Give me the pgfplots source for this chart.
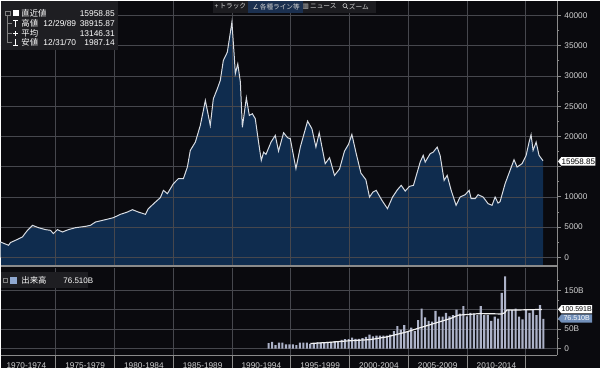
\documentclass[border=0pt]{standalone}
\usepackage{fontspec}
\setmainfont{Liberation Sans}
\newfontfamily\cjk{Noto Sans CJK JP}
\newfontfamily\djv{DejaVu Sans}
\usepackage{pgfplots}
\pgfplotsset{compat=1.18}
\usepackage{pgfplotstable}

\definecolor{bg}{HTML}{0A0A0E}
\definecolor{areafill}{HTML}{0F2C4E}
\definecolor{linec}{HTML}{D8DCE2}
\definecolor{gridc}{HTML}{46474D}
\definecolor{axc}{HTML}{8A8A8A}
\definecolor{txt}{HTML}{D2D2D2}
\definecolor{barc}{HTML}{ACB2C8}
\definecolor{boxc}{HTML}{1E1E22}
\definecolor{tbar}{HTML}{1C1C20}
\definecolor{hl}{HTML}{1B3050}
\definecolor{volbox}{HTML}{7290BA}
\definecolor{volsq}{HTML}{8FA8D0}

\tikzset{gridline/.style={draw=gridc, line width=0.5pt}}

\pgfplotstableread{
year value
1970.30 2530
1970.72 2200
1970.98 1990
1971.15 2450
1971.57 2810
1972.16 3360
1972.59 4460
1973.02 5290
1973.53 4900
1974.12 4580
1974.55 4460
1974.80 3920
1975.14 4580
1975.57 4190
1976.08 4580
1976.68 4900
1977.53 5120
1977.95 5290
1978.38 5840
1979.23 6230
1979.91 6560
1980.50 7110
1981.10 7490
1981.52 7880
1982.03 7490
1982.63 7110
1982.88 8050
1983.48 9140
1983.90 9870
1984.16 11080
1984.50 10530
1985.01 12180
1985.43 13010
1985.86 13010
1986.20 14930
1986.45 17690
1986.88 19060
1987.30 21820
1987.73 25950
1987.90 24300
1988.15 21820
1988.41 26230
1988.75 27890
1989.00 29260
1989.26 32560
1989.60 33940
1989.86 37240
1989.99 38916
1990.20 33000
1990.28 30370
1990.49 32000
1990.71 29000
1990.88 21500
1991.22 26400
1991.47 23470
1991.73 23750
1991.98 22930
1992.24 19300
1992.49 16030
1992.69 17400
1992.89 17030
1993.32 19060
1993.68 20170
1993.96 17570
1994.39 20610
1994.73 19780
1994.96 19620
1995.44 14660
1995.81 18230
1996.43 22530
1996.80 21270
1997.14 18230
1997.42 20610
1997.93 15490
1998.30 16480
1998.72 13560
1999.15 14600
1999.57 17570
1999.91 18680
2000.20 20330
2000.54 17400
2000.97 13930
2001.39 12840
2001.70 9970
2001.99 10790
2002.27 11080
2002.76 9420
2003.23 8050
2003.66 9970
2004.08 11190
2004.40 11900
2004.74 10960
2005.10 11740
2005.44 11900
2006.01 15750
2006.27 16860
2006.44 15750
2006.86 17140
2007.12 17400
2007.46 18230
2007.71 16860
2008.05 12730
2008.31 13560
2008.65 11080
2009.07 8600
2009.41 9970
2009.84 10360
2010.18 11080
2010.35 9700
2010.69 9700
2010.94 10360
2011.37 9970
2011.79 8880
2012.13 8600
2012.39 9970
2012.64 8980
2012.81 9200
2013.24 12180
2013.66 14380
2014.00 16150
2014.26 14930
2014.68 15490
2015.03 16860
2015.28 19060
2015.45 20280
2015.62 17690
2015.88 19060
2016.13 16860
2016.47 15959
}\nikkei

\pgfplotstableread{
year vol
1993.11 14
1993.41 17
1993.70 8.5
1994.00 15
1994.29 15
1994.59 11
1994.89 11
1995.18 11
1995.48 9
1995.77 15
1996.07 15
1996.37 15
1996.66 12
1996.96 14
1997.26 16
1997.55 16
1997.85 16
1998.14 17
1998.44 17
1998.74 19
1999.03 19
1999.33 22
1999.62 24
1999.92 24
2000.22 28
2000.51 25
2000.81 25
2001.10 27
2001.40 30
2001.70 36
2001.99 31
2002.29 33
2002.59 33
2002.88 33
2003.18 33
2003.47 36
2003.77 45
2004.07 58
2004.36 49
2004.66 60
2004.95 43
2005.25 54
2005.55 45
2005.84 73
2006.14 103
2006.43 80
2006.73 71
2007.03 69
2007.32 97
2007.62 82
2007.92 82
2008.21 92
2008.51 83
2008.80 86
2009.10 100
2009.40 90
2009.69 109
2009.99 83
2010.28 92
2010.58 90
2010.88 86
2011.17 109
2011.47 86
2011.76 86
2012.06 71
2012.36 82
2012.65 77
2012.95 143
2013.24 186
2013.54 100
2013.84 99
2014.13 103
2014.43 82
2014.72 75
2015.02 99
2015.32 92
2015.61 100
2015.91 86
2016.21 112
2016.50 76.51
}\volume

\pgfplotstableread{
year avg
1996.66 13
1998.08 15.4
1999.78 19.6
2001.76 23
2003.18 30
2004.31 38.6
2004.88 43
2005.73 51
2007.14 64
2008.56 77
2009.27 86
2011.11 90
2012.96 89
2013.20 92
2013.38 99
2013.95 99
2015.37 100
2016.36 100.6
}\volavg

\begin{document}
\begin{tikzpicture}
\fill[bg] (0pt,0pt) rectangle (450pt,276pt);

% ---------- upper panel ----------
\begin{axis}[
  at={(0pt,77.25pt)}, anchor=south west,
  scale only axis, width=417.75pt, height=198.75pt,
  xmin=1970.30, xmax=2017.66, ymin=-1322, ymax=42484,
  axis line style={draw=none},
  clip mode=individual,
  xtick=\empty,
  ytick={0,5000,10000,15000,20000,25000,30000,35000,40000},
  yticklabels={0,5000,10000,,20000,25000,30000,35000,40000},
  scaled y ticks=false,
  minor y tick num=1,
  ytick pos=right, yticklabel pos=right,
  tick align=outside,
  major tick length=3pt, minor tick length=1.8pt,
  y tick style={axc, line width=0.6pt},
  yticklabel style={font=\fontsize{6.2}{7}\selectfont, text=txt, xshift=-1pt},
  /pgf/number format/1000 sep={},
  /pgf/number format/assume math mode=true,
]
\fill[areafill] (axis cs:1970.30,-1322) rectangle (axis cs:2016.47,0);
\addplot[fill=areafill, draw=none] table[x=year,y=value]{\nikkei} \closedcycle;
\foreach \gx in {1975,1980,1985,1990,1995,2000,2005,2010,2015} {
  \edef\tmp{\noexpand\draw[gridline] (axis cs:\gx,-1322) -- (axis cs:\gx,42484);}\tmp
}
\foreach \gy in {0,5000,10000,15000,20000,25000,30000,35000,40000} {
  \edef\tmp{\noexpand\draw[gridline] (axis cs:1970.30,\gy) -- (axis cs:2017.66,\gy);}\tmp
}
\addplot[linec, line width=0.75pt] table[x=year,y=value]{\nikkei};
\end{axis}

% ---------- lower panel ----------
\begin{axis}[
  at={(0pt,9.75pt)}, anchor=south west,
  scale only axis, width=417.75pt, height=65.25pt,
  xmin=1970.30, xmax=2017.66, ymin=-17.2, ymax=206.6,
  axis line style={draw=none},
  clip mode=individual,
  xtick={1972.5,1977.5,1982.5,1987.5,1992.5,1997.5,2002.5,2007.5,2012.5},
  xticklabels={1970-1974,1975-1979,1980-1984,1985-1989,1990-1994,1995-1999,2000-2004,2005-2009,2010-2014},
  xtick pos=bottom,
  x tick style={draw=none},
  ytick={0,50,100,150}, yticklabels={0,50B,,150B},
  minor ytick={25,75,125,175},
  scaled y ticks=false,
  ytick pos=right, yticklabel pos=right,
  tick align=outside,
  major tick length=3pt,
  minor tick length=1.8pt,
  y tick style={axc, line width=0.6pt},
  xticklabel style={font=\fontsize{6.2}{7}\selectfont, text=txt, yshift=0.8pt},
  yticklabel style={font=\fontsize{6.2}{7}\selectfont, text=txt, xshift=-1pt},
  /pgf/number format/assume math mode=true,
]
\foreach \gx in {1975,1980,1985,1990,1995,2000,2005,2010,2015} {
  \edef\tmp{\noexpand\draw[gridline] (axis cs:\gx,-17.2) -- (axis cs:\gx,206.6);
            \noexpand\draw[axc, line width=0.6pt] (axis cs:\gx,-17.2) -- ++(0pt,-9.75pt);}\tmp
}
\foreach \gy in {0,50,100,150} {
  \edef\tmp{\noexpand\draw[gridline] (axis cs:1970.30,\gy) -- (axis cs:2017.66,\gy);}\tmp
}
\addplot[ybar, bar width=1.6pt, fill=barc, draw=none] table[x=year,y=vol]{\volume};
\addplot[white!88!gray, line width=0.9pt] table[x=year,y=avg]{\volavg};
\end{axis}

% separators / axis lines
\fill[axc] (0pt,75.75pt) rectangle (417.75pt,77.25pt);
\draw[axc, line width=0.8pt] (417.75pt,9.75pt) -- (417.75pt,276pt);
\draw[axc, line width=0.8pt] (0pt,9.75pt) -- (417.75pt,9.75pt);

% ---------- upper legend box ----------
\fill[boxc] (0pt,238.5pt) rectangle (88.5pt,276pt);
\draw[gray, line width=0.4pt] (5.25pt,264.5pt) -- (5.25pt,244.3pt) -- (8.5pt,244.3pt);
\draw[gray, line width=0.4pt] (3.5pt,264.8pt) rectangle (7pt,268.3pt);
\draw[gray, line width=0.4pt] (5.25pt,259pt) -- (8.5pt,259pt);
\draw[gray, line width=0.4pt] (5.25pt,251.5pt) -- (8.5pt,251.5pt);
\fill[white] (9pt,264.3pt) rectangle (13.5pt,268.8pt);
\draw[white, line width=0.5pt] (9.5pt,261.5pt) -- (13pt,261.5pt) (11.25pt,261.5pt) -- (11.25pt,256.5pt);
\draw[white, line width=0.5pt] (9.5pt,251.5pt) -- (13pt,251.5pt) (11.25pt,253.3pt) -- (11.25pt,249.7pt);
\draw[white, line width=0.5pt] (9.5pt,242pt) -- (13pt,242pt) (11.25pt,242pt) -- (11.25pt,247pt);
\begin{scope}[every node/.style={inner sep=0pt, text=white, font=\fontsize{6.3}{7}\selectfont}]
\node[anchor=west] at (15.5pt,266.5pt) {\cjk 直近値};
\node[anchor=west] at (15.5pt,259pt) {\cjk 高値};
\node[anchor=west] at (15.5pt,251.5pt) {\cjk 平均};
\node[anchor=west] at (15.5pt,244.3pt) {\cjk 安値};
\node[anchor=west] at (32pt,259pt) {12/29/89};
\node[anchor=west] at (32pt,244.3pt) {12/31/70};
\node[anchor=east] at (86pt,266.5pt) {15958.85};
\node[anchor=east] at (86pt,259pt) {38915.87};
\node[anchor=east] at (86pt,251.5pt) {13146.31};
\node[anchor=east] at (86pt,244.3pt) {1987.14};
\end{scope}

% ---------- toolbar ----------
\fill[tbar] (159.75pt,267pt) rectangle (282pt,276pt);
\fill[hl] (186pt,267pt) rectangle (227pt,276pt);
\begin{scope}[every node/.style={inner sep=0pt, text=txt, font=\fontsize{5}{6}\selectfont}]
\node at (172.5pt,271.5pt) {+\,\cjk トラック};
\node at (207pt,271.5pt) {{\djv ∠}\,\cjk 各種ライン等};
\node at (239.5pt,271.5pt) {{\djv ▥}\,\cjk ニュース};
\node at (269pt,271.5pt) {\cjk ズーム};
\end{scope}
\draw[txt, line width=0.4pt] (258.5pt,272.2pt) circle (1.5pt) (259.6pt,271.1pt) -- (260.8pt,269.9pt);

% ---------- lower legend box ----------
\fill[boxc] (0pt,60pt) rectangle (66pt,72pt);
\draw[gray, line width=0.4pt] (2.2pt,64.3pt) rectangle (5.4pt,67.5pt);
\fill[volsq] (7pt,63.5pt) rectangle (12pt,68.5pt);
\node[anchor=west, inner sep=0pt, text=white, font=\fontsize{6.3}{7}\selectfont] at (15.5pt,66pt) {\cjk 出来高};
\node[anchor=west, inner sep=0pt, text=white, font=\fontsize{6}{7}\selectfont] at (47pt,66pt) {76.510B};

% ---------- right value tags ----------
\fill[white] (418.5pt,155.25pt) -- (421pt,158.5pt) -- (446.5pt,158.5pt) -- (446.5pt,152pt) -- (421pt,152pt) -- cycle;
\node[inner sep=0pt, text=black, font=\fontsize{6}{7}\selectfont] at (433.7pt,155.25pt) {15958.85};
\fill[white] (418.5pt,44.25pt) -- (421pt,47.3pt) -- (444pt,47.3pt) -- (444pt,41.2pt) -- (421pt,41.2pt) -- cycle;
\node[inner sep=0pt, text=black, font=\fontsize{5.3}{6}\selectfont] at (432.5pt,44.25pt) {100.591B};
\fill[volbox] (418.5pt,37.3pt) -- (421pt,40.4pt) -- (444pt,40.4pt) -- (444pt,34.2pt) -- (421pt,34.2pt) -- cycle;
\node[inner sep=0pt, text=white, font=\fontsize{5.3}{6}\selectfont] at (432.5pt,37.3pt) {76.510B};
\end{tikzpicture}
\end{document}
